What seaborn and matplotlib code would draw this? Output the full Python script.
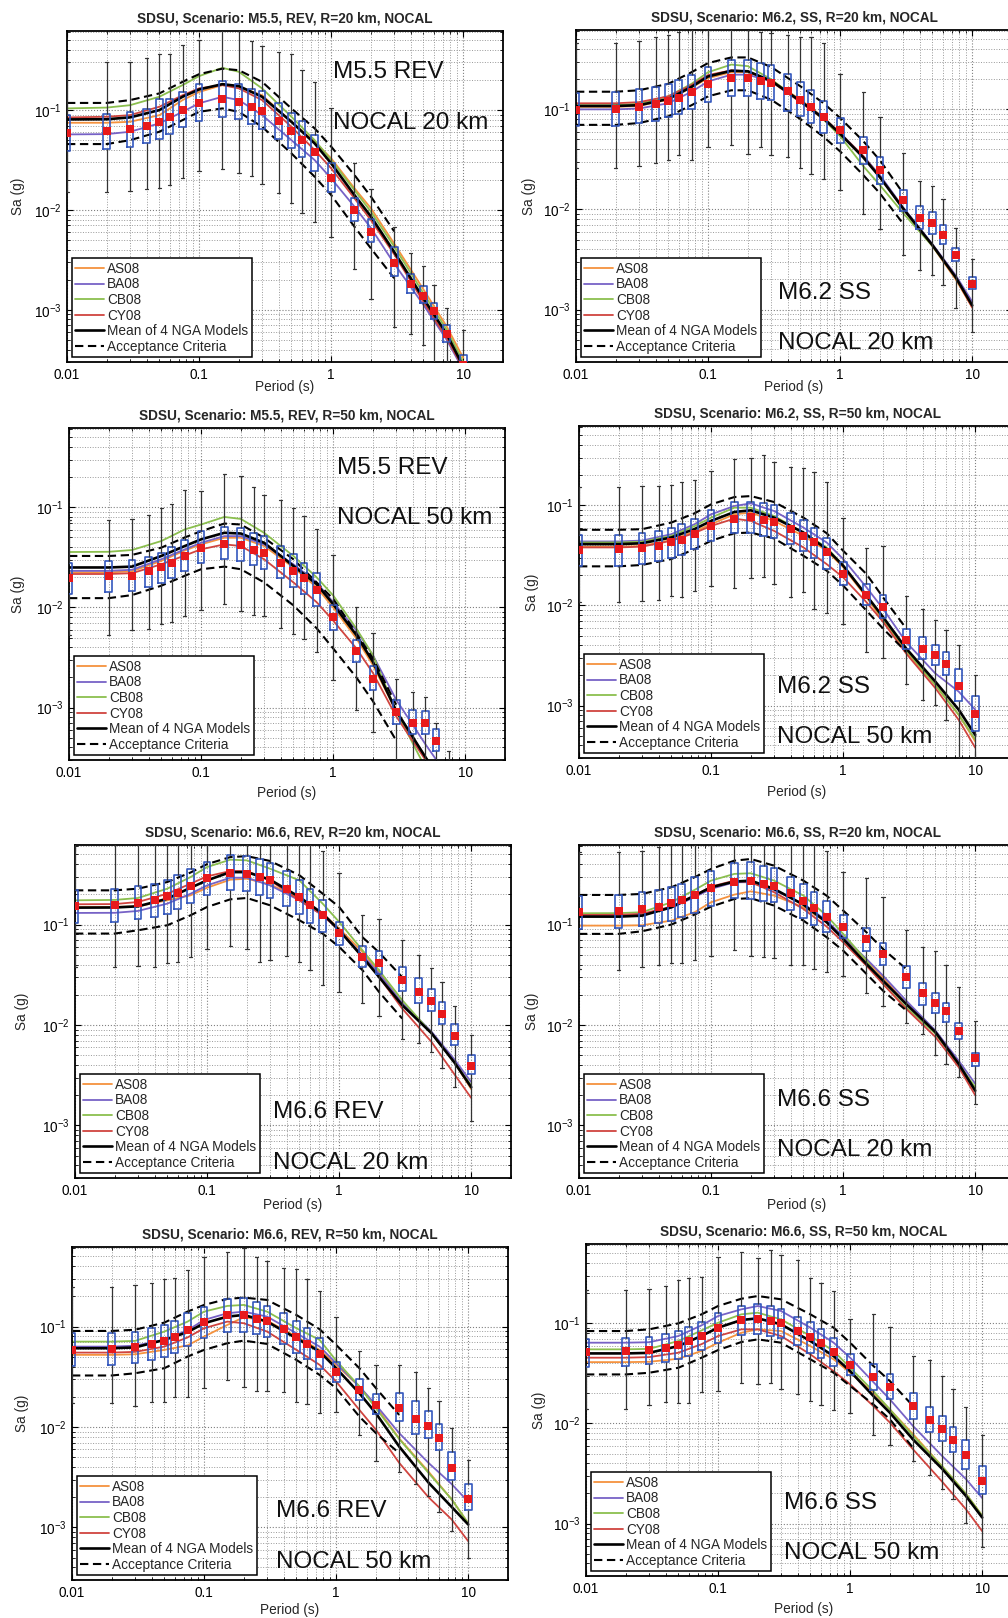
import numpy as np
import pandas as pd
import matplotlib
matplotlib.use("Agg")
import matplotlib.pyplot as plt
import seaborn as sns
from matplotlib.ticker import LogLocator, NullFormatter, FixedLocator, FixedFormatter

# ---------------- data ----------------
BT = [0.01, 0.02, 0.03, 0.04, 0.05, 0.06, 0.075, 0.1, 0.15, 0.2, 0.25, 0.3, 0.4, 0.5,
      0.6, 0.75, 1, 1.5, 2, 3, 4, 5, 6, 7.5, 10]
CT = [0.01, 0.02, 0.03, 0.05, 0.075, 0.1, 0.15, 0.2, 0.3, 0.5, 0.75, 1, 1.5, 2, 3, 5, 7.5, 10]
AT = [0.01, 0.02, 0.03, 0.05, 0.075, 0.1, 0.15, 0.2, 0.3, 0.5, 0.75, 1, 1.5, 2, 3]

# Panel 1: M5.5 REV 20 km
P1_HI = [0.30, 0.30, 0.304, 0.329, 0.369, 0.369, 0.447, 0.501, 0.8, 0.8, 0.493, 0.437, 0.383, 0.369, 0.255, 0.192, 0.105, 0.0297, 0.0161, 0.00681, 0.00369, 0.00277, 0.00178, 0.00105, 0.000621]
P1_Q3 = [0.0891, 0.0912, 0.0955, 0.103, 0.128, 0.129, 0.152, 0.182, 0.195, 0.182, 0.161, 0.155, 0.117, 0.094, 0.0782, 0.0562, 0.0293, 0.0131, 0.00807, 0.00423, 0.00229, 0.00175, 0.00118, 0.000697, 0.000355]
P1_MED = [0.0593, 0.0621, 0.0651, 0.0692, 0.0759, 0.0857, 0.1, 0.118, 0.129, 0.121, 0.108, 0.0985, 0.0782, 0.0621, 0.0501, 0.038, 0.0209, 0.01, 0.00607, 0.00297, 0.00182, 0.00139, 0.000962, 0.000571, 0.00028]
P1_Q1 = [0.0392, 0.0407, 0.043, 0.0464, 0.0513, 0.0571, 0.0671, 0.0782, 0.0851, 0.0807, 0.0724, 0.0651, 0.0509, 0.0414, 0.0336, 0.0247, 0.0151, 0.00782, 0.00475, 0.00219, 0.00149, 0.00117, 0.000806, 0.000475, 0.00024]
P1_LO = [0.015, 0.015, 0.0156, 0.0161, 0.0165, 0.0177, 0.0207, 0.0247, 0.0255, 0.0233, 0.0221, 0.0181, 0.0149, 0.0118, 0.00927, 0.00753, 0.0054, 0.00255, 0.00128, 0.00068, 0.000575, 0.00044, 0.0002, 0.0002, 0.00015]
P1_AS = [0.0747, 0.0747, 0.0764, 0.089, 0.126, 0.152, 0.178, 0.171, 0.141, 0.0764, 0.0482, 0.0329, 0.0165, 0.0104, 0.0046, 0.0016, 0.00068, 0.00033]
P1_BA = [0.0571, 0.0575, 0.0607, 0.0736, 0.0962, 0.117, 0.136, 0.126, 0.0891, 0.05, 0.0316, 0.0207, 0.0108, 0.0066, 0.0029, 0.00112, 0.0005, 0.00025]
P1_CB = [0.104, 0.106, 0.112, 0.136, 0.178, 0.219, 0.265, 0.242, 0.165, 0.0858, 0.05, 0.0316, 0.0158, 0.0096, 0.0043, 0.00146, 0.00063, 0.0003]
P1_CY = [0.0845, 0.0858, 0.0891, 0.108, 0.141, 0.165, 0.178, 0.165, 0.126, 0.0681, 0.0398, 0.0261, 0.0131, 0.0079, 0.0036, 0.0012, 0.00052, 0.00026]
P1_MEAN = [0.0807, 0.081, 0.0845, 0.1, 0.136, 0.161, 0.182, 0.174, 0.136, 0.0764, 0.0464, 0.0293, 0.0141, 0.0086, 0.0038, 0.0013, 0.00057, 0.00027]
P1_UP = [0.118, 0.118, 0.126, 0.147, 0.192, 0.229, 0.26, 0.251, 0.192, 0.104, 0.0656, 0.0431, 0.0224, 0.0136, 0.0061]
P1_DN = [0.0457, 0.0457, 0.05, 0.0607, 0.0794, 0.0962, 0.104, 0.096, 0.068, 0.0369, 0.0215, 0.0141, 0.0068, 0.00412, 0.00207]

# Panel 2: M6.2 SS 20 km
P2_HI = [0.464, 0.464, 0.482, 0.533, 0.554, 0.598, 0.8, 0.8, 0.8, 0.8, 0.598, 0.575, 0.554, 0.525, 0.525, 0.457, 0.226, 0.150, 0.0845, 0.0363, 0.0192, 0.0173, 0.0126, 0.00646, 0.00324]
P2_Q3 = [0.147, 0.150, 0.158, 0.166, 0.179, 0.196, 0.220, 0.267, 0.311, 0.311, 0.288, 0.277, 0.226, 0.188, 0.156, 0.122, 0.0813, 0.0533, 0.0331, 0.0156, 0.0108, 0.0094, 0.00703, 0.00417, 0.00212]
P2_MED = [0.0985, 0.1016, 0.1063, 0.113, 0.122, 0.131, 0.150, 0.178, 0.207, 0.207, 0.194, 0.182, 0.152, 0.124, 0.1063, 0.0845, 0.0621, 0.0392, 0.0247, 0.0124, 0.00819, 0.00736, 0.00558, 0.00349, 0.00182]
P2_Q1 = [0.0682, 0.0687, 0.0724, 0.077, 0.0832, 0.0891, 0.1, 0.1175, 0.137, 0.137, 0.128, 0.124, 0.0962, 0.0857, 0.0724, 0.0585, 0.0457, 0.0284, 0.0179, 0.00962, 0.00641, 0.00575, 0.00457, 0.00304, 0.00162]
P2_LO = [0.0257, 0.0257, 0.0273, 0.0288, 0.0311, 0.0347, 0.0311, 0.0417, 0.044, 0.0357, 0.0424, 0.0349, 0.0336, 0.0261, 0.0224, 0.02, 0.0156, 0.00912, 0.00641, 0.00355, 0.00251, 0.0022, 0.00175, 0.00105, 0.000593]
P2_AS = [0.106, 0.106, 0.108, 0.125, 0.165, 0.205, 0.235, 0.235, 0.195, 0.125, 0.083, 0.058, 0.034, 0.0215, 0.0103, 0.0043, 0.002, 0.00105]
P2_BA = [0.1, 0.1, 0.102, 0.115, 0.15, 0.19, 0.222, 0.222, 0.19, 0.122, 0.082, 0.058, 0.034, 0.022, 0.0105, 0.0045, 0.0022, 0.0012]
P2_CB = [0.11, 0.11, 0.114, 0.135, 0.18, 0.235, 0.28, 0.27, 0.2, 0.12, 0.079, 0.054, 0.027, 0.0175, 0.0092, 0.0043, 0.0021, 0.0011]
P2_CY = [0.115, 0.115, 0.118, 0.135, 0.175, 0.22, 0.245, 0.24, 0.19, 0.118, 0.08, 0.057, 0.034, 0.021, 0.0102, 0.0044, 0.0021, 0.00105]
P2_MEAN = [0.108, 0.108, 0.11, 0.127, 0.168, 0.213, 0.243, 0.24, 0.193, 0.121, 0.081, 0.057, 0.033, 0.021, 0.0102, 0.0044, 0.0021, 0.0011]
P2_UP = [0.15, 0.15, 0.155, 0.18, 0.235, 0.29, 0.33, 0.33, 0.265, 0.17, 0.115, 0.082, 0.048, 0.031, 0.0145]
P2_DN = [0.07, 0.07, 0.073, 0.085, 0.11, 0.135, 0.155, 0.155, 0.125, 0.08, 0.053, 0.038, 0.022, 0.0145, 0.0072]

# Panel 3: M5.5 REV 50 km
P3_HI = [0.0755, 0.0755, 0.0772, 0.0846, 0.0977, 0.109, 0.1496, 0.144, 0.214, 0.207, 0.159, 0.1335, 0.119, 0.0985, 0.0815, 0.0601, 0.0332, 0.01, 0.00561, 0.00194, 0.00143, 0.00127, 0.000705, 0.00037, 0.00028]
P3_Q3 = [0.0281, 0.0288, 0.0297, 0.0322, 0.0353, 0.0405, 0.0471, 0.0574, 0.0639, 0.0615, 0.0557, 0.0516, 0.0411, 0.034, 0.0281, 0.0219, 0.0107, 0.00471, 0.00262, 0.0012, 0.000955, 0.000933, 0.000615, 0.000253, 0.0002]
P3_MED = [0.0195, 0.0204, 0.0207, 0.0229, 0.0251, 0.0281, 0.0327, 0.0396, 0.0434, 0.042, 0.0375, 0.0353, 0.0281, 0.0234, 0.0195, 0.0149, 0.00802, 0.00367, 0.00194, 0.0009, 0.000705, 0.000705, 0.000464, 0.0002, 0.00017]
P3_Q1 = [0.0137, 0.0142, 0.0147, 0.0159, 0.0175, 0.0195, 0.0229, 0.0275, 0.0303, 0.0292, 0.0264, 0.0245, 0.0195, 0.0161, 0.0135, 0.0103, 0.00601, 0.00288, 0.00151, 0.00069, 0.00054, 0.000548, 0.00037, 0.00016, 0.00014]
P3_LO = [0.00536, 0.00536, 0.00592, 0.00615, 0.00689, 0.00716, 0.0082, 0.00934, 0.0109, 0.00913, 0.00846, 0.0082, 0.00624, 0.0054, 0.00482, 0.00356, 0.00187, 0.000955, 0.000574, 0.0002, 0.0002, 0.0002, 0.00015, 0.0001, 0.0001]
P3_AS = [0.0224, 0.0224, 0.023, 0.0292, 0.037, 0.0427, 0.0497, 0.0497, 0.0411, 0.0251, 0.0159, 0.01, 0.0049, 0.00266, 0.00092, 0.00032, 0.00014, 0.00008]
P3_BA = [0.0232, 0.0232, 0.0238, 0.0303, 0.038, 0.0443, 0.0516, 0.0516, 0.0427, 0.027, 0.0178, 0.0113, 0.0059, 0.00334, 0.0012, 0.00043, 0.0002, 0.0001]
P3_CB = [0.0358, 0.036, 0.0375, 0.0461, 0.0601, 0.0674, 0.0802, 0.0766, 0.0557, 0.0327, 0.02, 0.0132, 0.00615, 0.00334, 0.00092, 0.00025, 0.00012, 0.00007]
P3_CY = [0.0216, 0.0216, 0.022, 0.027, 0.033, 0.0381, 0.0427, 0.0411, 0.0303, 0.0178, 0.0113, 0.0074, 0.0039, 0.00222, 0.00082, 0.0003, 0.00013, 0.00007]
P3_MEAN = [0.0251, 0.0251, 0.0256, 0.0327, 0.041, 0.0479, 0.0557, 0.0548, 0.0443, 0.026, 0.0171, 0.0108, 0.00529, 0.00287, 0.00093, 0.00032, 0.00014, 0.00008]
P3_UP = [0.0327, 0.0327, 0.0335, 0.0396, 0.05, 0.0578, 0.0689, 0.0674, 0.0497, 0.0303, 0.0178, 0.0122, 0.0055, 0.0031, 0.00107]
P3_DN = [0.0124, 0.0124, 0.0133, 0.0165, 0.0207, 0.0241, 0.0256, 0.0241, 0.0178, 0.0105, 0.0062, 0.0039, 0.002, 0.00116, 0.00047]

# Panel 4: M6.2 SS 50 km
P4_HI = [0.1532, 0.1532, 0.1556, 0.1556, 0.158, 0.173, 0.1785, 0.2227, 0.2931, 0.2953, 0.3211, 0.2695, 0.2403, 0.2367, 0.2143, 0.1706, 0.0754, 0.0374, 0.0394, 0.01257, 0.00927, 0.00721, 0.00573, 0.00401, 0.00202]
P4_Q3 = [0.0504, 0.0511, 0.0535, 0.0556, 0.0595, 0.0648, 0.0737, 0.0899, 0.1079, 0.1079, 0.1063, 0.1015, 0.0833, 0.0715, 0.06, 0.0477, 0.0269, 0.0163, 0.0126, 0.00586, 0.00481, 0.00407, 0.00344, 0.00231, 0.00126]
P4_MED = [0.0357, 0.0366, 0.0371, 0.0394, 0.0426, 0.0452, 0.0523, 0.0623, 0.0737, 0.0772, 0.0715, 0.0683, 0.0578, 0.0496, 0.0426, 0.0339, 0.0206, 0.01286, 0.00977, 0.00456, 0.00366, 0.00319, 0.00261, 0.00157, 0.000826]
P4_Q1 = [0.0246, 0.025, 0.0259, 0.028, 0.0297, 0.0319, 0.0366, 0.0439, 0.0535, 0.0535, 0.0496, 0.0477, 0.041, 0.0352, 0.0295, 0.0231, 0.016, 0.01015, 0.00754, 0.00366, 0.00291, 0.00254, 0.00202, 0.00111, 0.00056]
P4_LO = [0.0108, 0.0108, 0.011, 0.0114, 0.0123, 0.0121, 0.0141, 0.0156, 0.0149, 0.019, 0.0193, 0.0164, 0.0122, 0.0136, 0.00927, 0.00846, 0.00657, 0.00344, 0.00301, 0.00163, 0.00114, 0.00101, 0.00072, 0.0002, 0.0002]
P4_AS = [0.0386, 0.0386, 0.0393, 0.045, 0.055, 0.0648, 0.0814, 0.0846, 0.0699, 0.0496, 0.0352, 0.0241, 0.0121, 0.0071, 0.00343, 0.0016, 0.00081, 0.00044]
P4_BA = [0.0436, 0.0436, 0.0445, 0.0515, 0.0648, 0.0814, 0.0985, 0.1047, 0.0878, 0.06, 0.0426, 0.0291, 0.0152, 0.0093, 0.00431, 0.00209, 0.00138, 0.00091]
P4_CB = [0.0426, 0.0426, 0.0433, 0.0496, 0.062, 0.0754, 0.0948, 0.0948, 0.0783, 0.0535, 0.038, 0.025, 0.0126, 0.0074, 0.00358, 0.0016, 0.00081, 0.00046]
P4_CY = [0.038, 0.038, 0.0387, 0.0443, 0.053, 0.0623, 0.0737, 0.0699, 0.0556, 0.038, 0.0259, 0.0191, 0.0108, 0.0069, 0.00331, 0.00149, 0.00072, 0.00038]
P4_MEAN = [0.041, 0.041, 0.0418, 0.0478, 0.058, 0.0699, 0.0859, 0.0892, 0.0754, 0.0535, 0.0366, 0.025, 0.0126, 0.0077, 0.00372, 0.00173, 0.00091, 0.00051]
P4_UP = [0.057, 0.057, 0.0578, 0.0673, 0.0833, 0.1023, 0.121, 0.1238, 0.108, 0.0754, 0.0527, 0.0352, 0.0206, 0.0121, 0.0059]
P4_DN = [0.0246, 0.0246, 0.0254, 0.0291, 0.0366, 0.0443, 0.0527, 0.0535, 0.0467, 0.0314, 0.0223, 0.0158, 0.0089, 0.0059, 0.00344]

# Panel 5: M6.6 REV 20 km
P5_HI = [0.8, 0.8, 0.8, 0.8, 0.8, 0.8, 0.8, 0.8, 0.8, 0.8, 0.8, 0.8, 0.8, 0.8, 0.8, 0.539, 0.326, 0.1257, 0.1147, 0.0699, 0.0496, 0.0366, 0.0269, 0.01556, 0.00796]
P5_Q3 = [0.2227, 0.2278, 0.2403, 0.2555, 0.2799, 0.309, 0.3546, 0.4194, 0.4884, 0.4809, 0.4525, 0.413, 0.3413, 0.2756, 0.2278, 0.1771, 0.1063, 0.0609, 0.0547, 0.0374, 0.0291, 0.0231, 0.01705, 0.01015, 0.00504]
P5_MED = [0.1521, 0.1556, 0.1641, 0.1771, 0.1927, 0.2079, 0.2421, 0.2908, 0.326, 0.3211, 0.2975, 0.2756, 0.2278, 0.1883, 0.1556, 0.1238, 0.0827, 0.0477, 0.041, 0.028, 0.02127, 0.01732, 0.01296, 0.00783, 0.00394]
P5_Q1 = [0.1039, 0.1063, 0.113, 0.1192, 0.1286, 0.142, 0.1654, 0.1956, 0.2193, 0.2143, 0.1956, 0.1854, 0.1521, 0.1266, 0.1047, 0.0846, 0.0633, 0.038, 0.0321, 0.02176, 0.01667, 0.01377, 0.01023, 0.00633, 0.00324]
P5_LO = [0.038, 0.0374, 0.0391, 0.038, 0.041, 0.0426, 0.0477, 0.0569, 0.0614, 0.0578, 0.0426, 0.0442, 0.0485, 0.0426, 0.0352, 0.025, 0.02143, 0.0164, 0.01238, 0.00726, 0.00657, 0.00543, 0.00371, 0.00244, 0.00111]
P5_AS = [0.1498, 0.15, 0.152, 0.1745, 0.1956, 0.2329, 0.28, 0.286, 0.2515, 0.181, 0.1286, 0.0913, 0.0535, 0.0338, 0.0162, 0.0083, 0.0042, 0.0023]
P5_BA = [0.1306, 0.131, 0.1367, 0.1617, 0.2029, 0.2456, 0.2929, 0.2929, 0.2456, 0.1745, 0.1238, 0.0878, 0.0496, 0.0326, 0.0166, 0.0086, 0.0045, 0.0027]
P5_CB = [0.1745, 0.176, 0.184, 0.228, 0.2975, 0.374, 0.443, 0.436, 0.36, 0.2756, 0.1617, 0.1063, 0.0556, 0.0352, 0.0177, 0.0083, 0.0042, 0.0025]
P5_CY = [0.1593, 0.16, 0.168, 0.2029, 0.2555, 0.3022, 0.3413, 0.3413, 0.2756, 0.1745, 0.1238, 0.0878, 0.0477, 0.0302, 0.0146, 0.0068, 0.0032, 0.00188]
P5_MEAN = [0.1475, 0.148, 0.152, 0.181, 0.2329, 0.2756, 0.333, 0.333, 0.28, 0.1883, 0.1286, 0.0878, 0.0477, 0.0302, 0.0158, 0.0083, 0.0042, 0.0024]
P5_UP = [0.2193, 0.2193, 0.2278, 0.2654, 0.33, 0.40, 0.47, 0.48, 0.43, 0.31, 0.2033, 0.1498, 0.075, 0.053, 0.030]
P5_DN = [0.0814, 0.0814, 0.0878, 0.0985, 0.1238, 0.1498, 0.1785, 0.184, 0.1556, 0.1104, 0.0814, 0.06, 0.0352, 0.0214, 0.0116]

# Panel 6: M6.6 SS 20 km
P6_HI = [0.5245, 0.5245, 0.545, 0.5884, 0.8, 0.8, 0.8, 0.8, 0.8, 0.8, 0.8, 0.8, 0.8, 0.8, 0.8, 0.545, 0.3369, 0.2913, 0.1871, 0.0885, 0.0604, 0.0551, 0.04, 0.02415, 0.01109]
P6_Q3 = [0.1944, 0.1988, 0.2098, 0.223, 0.2389, 0.2539, 0.2958, 0.3446, 0.4077, 0.4171, 0.3864, 0.3636, 0.3004, 0.2539, 0.2098, 0.1707, 0.1248, 0.0919, 0.0657, 0.0391, 0.02608, 0.02074, 0.01662, 0.01051, 0.00528]
P6_MED = [0.1327, 0.1358, 0.1421, 0.1511, 0.1631, 0.176, 0.1974, 0.2299, 0.2679, 0.2741, 0.2559, 0.2444, 0.205, 0.1707, 0.1454, 0.1201, 0.0955, 0.0715, 0.051, 0.0304, 0.02074, 0.01675, 0.01373, 0.00882, 0.00468]
P6_Q1 = [0.0906, 0.0919, 0.0963, 0.1031, 0.1096, 0.1183, 0.1306, 0.1546, 0.1828, 0.18, 0.1707, 0.1668, 0.141, 0.1165, 0.1, 0.0852, 0.0737, 0.0543, 0.04, 0.02325, 0.016, 0.01331, 0.01083, 0.00729, 0.00395]
P6_LO = [0.0362, 0.0354, 0.0376, 0.04, 0.0419, 0.0416, 0.0445, 0.0491, 0.056, 0.0491, 0.0473, 0.0466, 0.0397, 0.0397, 0.0362, 0.0336, 0.0306, 0.0207, 0.0154, 0.01051, 0.00817, 0.00505, 0.00411, 0.00303, 0.00162]
P6_AS = [0.0977, 0.0977, 0.0985, 0.1096, 0.1327, 0.1668, 0.1988, 0.2145, 0.1944, 0.1487, 0.1055, 0.0748, 0.0439, 0.0299, 0.0162, 0.0082, 0.004, 0.0022]
P6_BA = [0.1229, 0.123, 0.1255, 0.1465, 0.188, 0.2264, 0.264, 0.264, 0.2215, 0.1606, 0.1096, 0.076, 0.0455, 0.0311, 0.0175, 0.0088, 0.0044, 0.0026]
P6_CB = [0.1297, 0.13, 0.1327, 0.1668, 0.2215, 0.2741, 0.3196, 0.3245, 0.2741, 0.1944, 0.1229, 0.0808, 0.0439, 0.0257, 0.015, 0.0082, 0.0041, 0.0024]
P6_CY = [0.1248, 0.125, 0.128, 0.151, 0.195, 0.2389, 0.274, 0.264, 0.21, 0.1432, 0.0955, 0.0667, 0.039, 0.0257, 0.0145, 0.0076, 0.0038, 0.002]
P6_MEAN = [0.1201, 0.12, 0.1227, 0.1487, 0.1944, 0.2353, 0.268, 0.274, 0.2264, 0.1581, 0.1055, 0.072, 0.0406, 0.0277, 0.0162, 0.0085, 0.0041, 0.00222]
P6_UP = [0.1973, 0.1973, 0.202, 0.235, 0.296, 0.358, 0.433, 0.45, 0.386, 0.274, 0.194, 0.138, 0.0839, 0.0573, 0.0362]
P6_DN = [0.0808, 0.0808, 0.0858, 0.1, 0.1258, 0.151, 0.18, 0.183, 0.1546, 0.1096, 0.0748, 0.0551, 0.0323, 0.022, 0.014]

# Panel 7: M6.6 REV 50 km
P7_HI = [0.2462, 0.2462, 0.2578, 0.2741, 0.2981, 0.3027, 0.3663, 0.4971, 0.5576, 0.6018, 0.4896, 0.4502, 0.3805, 0.372, 0.2958, 0.2281, 0.1257, 0.0577, 0.0415, 0.0415, 0.0357, 0.02434, 0.01821, 0.00974, 0.00471]
P7_Q3 = [0.0858, 0.0872, 0.0892, 0.0963, 0.1031, 0.1147, 0.1358, 0.1581, 0.1885, 0.1944, 0.1746, 0.1606, 0.1378, 0.1147, 0.0977, 0.0765, 0.0448, 0.0302, 0.0214, 0.0217, 0.01821, 0.01448, 0.01075, 0.0057, 0.00272]
P7_MED = [0.0586, 0.0599, 0.0632, 0.0672, 0.072, 0.0795, 0.0927, 0.1113, 0.1306, 0.1306, 0.1201, 0.1147, 0.0955, 0.0795, 0.0672, 0.0539, 0.0357, 0.02343, 0.01675, 0.01551, 0.01206, 0.01027, 0.00786, 0.00395, 0.00194]
P7_Q1 = [0.0409, 0.0419, 0.0435, 0.0466, 0.0503, 0.0551, 0.0642, 0.0765, 0.0892, 0.0892, 0.0839, 0.0783, 0.0672, 0.0551, 0.0473, 0.0379, 0.0279, 0.01863, 0.01352, 0.01151, 0.00849, 0.00774, 0.00593, 0.00294, 0.00148]
P7_LO = [0.01726, 0.01726, 0.01624, 0.01793, 0.01766, 0.0201, 0.0198, 0.02434, 0.02947, 0.0253, 0.02273, 0.02308, 0.02239, 0.0178, 0.017, 0.01373, 0.01416, 0.0083, 0.00461, 0.00353, 0.0027, 0.00207, 0.00142, 0.000912, 0.000495]
P7_AS = [0.0523, 0.0523, 0.053, 0.0586, 0.065, 0.0795, 0.1039, 0.1238, 0.1147, 0.0795, 0.0586, 0.0416, 0.0253, 0.016, 0.0077, 0.0036, 0.0019, 0.0011]
P7_BA = [0.0632, 0.0632, 0.0645, 0.0737, 0.092, 0.1165, 0.1358, 0.141, 0.1257, 0.0858, 0.0632, 0.0432, 0.0253, 0.0166, 0.0087, 0.0044, 0.0027, 0.0018]
P7_CB = [0.0709, 0.0709, 0.072, 0.0892, 0.1121, 0.141, 0.1606, 0.1643, 0.141, 0.0963, 0.0737, 0.0459, 0.0253, 0.0154, 0.0076, 0.0035, 0.0019, 0.0011]
P7_CY = [0.0551, 0.0551, 0.056, 0.0632, 0.078, 0.0963, 0.1121, 0.108, 0.0892, 0.0586, 0.0416, 0.0284, 0.0148, 0.0094, 0.0044, 0.002, 0.0012, 0.00073]
P7_MEAN = [0.0609, 0.0609, 0.062, 0.0737, 0.088, 0.108, 0.1257, 0.1306, 0.1121, 0.0765, 0.0564, 0.0385, 0.0217, 0.0137, 0.0064, 0.0028, 0.0016, 0.00107]
P7_UP = [0.0905, 0.0905, 0.093, 0.1096, 0.141, 0.1643, 0.1885, 0.1944, 0.1842, 0.1306, 0.0941, 0.0657, 0.0385, 0.0244, 0.0132]
P7_DN = [0.0326, 0.0326, 0.0343, 0.0385, 0.0503, 0.0586, 0.0683, 0.0725, 0.0672, 0.0466, 0.033, 0.0243, 0.0127, 0.0087, 0.0055]

# Panel 8: M6.6 SS 50 km
P8_HI = [0.2138, 0.2138, 0.2188, 0.2362, 0.2692, 0.2818, 0.2929, 0.4606, 0.5168, 0.4536, 0.5412, 0.4786, 0.4266, 0.2862, 0.2551, 0.2105, 0.1096, 0.123, 0.0926, 0.0471, 0.0427, 0.0297, 0.0222, 0.01457, 0.00776]
P8_Q3 = [0.0703, 0.0719, 0.0736, 0.0776, 0.0838, 0.0919, 0.1039, 0.1259, 0.149, 0.1549, 0.149, 0.1402, 0.1166, 0.1039, 0.0871, 0.0719, 0.049, 0.0389, 0.0309, 0.02, 0.01457, 0.01184, 0.00919, 0.00681, 0.00374]
P8_MED = [0.0517, 0.0525, 0.0541, 0.0567, 0.0603, 0.0661, 0.0747, 0.0905, 0.108, 0.1113, 0.1055, 0.1008, 0.0832, 0.073, 0.0631, 0.0517, 0.0383, 0.0291, 0.0231, 0.0149, 0.01096, 0.00891, 0.00692, 0.00482, 0.00269]
P8_Q1 = [0.0366, 0.0375, 0.0389, 0.0414, 0.0437, 0.0471, 0.0541, 0.0631, 0.0759, 0.0788, 0.0747, 0.0708, 0.0603, 0.0509, 0.0454, 0.0375, 0.0304, 0.0215, 0.01738, 0.01114, 0.00819, 0.00666, 0.00521, 0.00352, 0.00198]
P8_LO = [0.0138, 0.0138, 0.01514, 0.01647, 0.01585, 0.0161, 0.0206, 0.021, 0.0255, 0.0249, 0.0255, 0.0222, 0.01965, 0.01673, 0.01514, 0.0136, 0.01279, 0.00776, 0.00607, 0.0042, 0.00309, 0.00222, 0.00176, 0.00102, 0.000584]
P8_AS = [0.041, 0.041, 0.0413, 0.0443, 0.053, 0.0641, 0.0806, 0.0871, 0.0838, 0.0593, 0.0437, 0.0321, 0.0203, 0.0138, 0.0078, 0.0037, 0.002, 0.0012]
P8_BA = [0.0641, 0.0641, 0.0648, 0.0747, 0.0955, 0.1184, 0.138, 0.149, 0.1328, 0.0905, 0.0641, 0.0454, 0.0259, 0.0174, 0.0094, 0.0047, 0.0028, 0.0018]
P8_CB = [0.055, 0.055, 0.0556, 0.0666, 0.085, 0.1015, 0.123, 0.1278, 0.1096, 0.0747, 0.0529, 0.036, 0.021, 0.0138, 0.0075, 0.0037, 0.002, 0.0012]
P8_CY = [0.0454, 0.0454, 0.046, 0.0509, 0.062, 0.0747, 0.0871, 0.0871, 0.0747, 0.049, 0.0333, 0.0246, 0.0149, 0.0102, 0.0055, 0.0026, 0.0014, 0.00084]
P8_MEAN = [0.0501, 0.0501, 0.0507, 0.0593, 0.075, 0.0905, 0.108, 0.1122, 0.0977, 0.0666, 0.0471, 0.0333, 0.0188, 0.0128, 0.0069, 0.0035, 0.0019, 0.00115]
P8_UP = [0.0838, 0.0838, 0.0871, 0.1, 0.123, 0.149, 0.1762, 0.1875, 0.1738, 0.123, 0.0905, 0.0641, 0.0375, 0.0265, 0.0149]
P8_DN = [0.0309, 0.0309, 0.0321, 0.036, 0.0454, 0.0541, 0.0651, 0.0692, 0.0641, 0.0437, 0.0321, 0.0237, 0.0155, 0.011, 0.0057]

TITLES = ["SDSU, Scenario: M5.5, REV, R=20 km, NOCAL", "SDSU, Scenario: M6.2, SS, R=20 km, NOCAL",
          "SDSU, Scenario: M5.5, REV, R=50 km, NOCAL", "SDSU, Scenario: M6.2, SS, R=50 km, NOCAL",
          "SDSU, Scenario: M6.6, REV, R=20 km, NOCAL", "SDSU, Scenario: M6.6, SS, R=20 km, NOCAL",
          "SDSU, Scenario: M6.6, REV, R=50 km, NOCAL", "SDSU, Scenario: M6.6, SS, R=50 km, NOCAL"]
LABEL1 = ["M5.5 REV", "M6.2 SS", "M5.5 REV", "M6.2 SS", "M6.6 REV", "M6.6 SS", "M6.6 REV", "M6.6 SS"]
LABEL2 = ["NOCAL 20 km", "NOCAL 20 km", "NOCAL 50 km", "NOCAL 50 km",
          "NOCAL 20 km", "NOCAL 20 km", "NOCAL 50 km", "NOCAL 50 km"]
MODEL_NAMES = ["AS08", "BA08", "CB08", "CY08", "Mean of 4 NGA Models", "Acceptance Criteria"]

# ---------------- style / layout ----------------
sns.set_style("ticks")
plt.rcParams["font.family"] = ["Liberation Sans", "DejaVu Sans"]
plt.rcParams["mathtext.fontset"] = "custom"
plt.rcParams["mathtext.rm"] = "Liberation Sans"
plt.rcParams["mathtext.it"] = "Liberation Sans:italic"
plt.rcParams["mathtext.bf"] = "Liberation Sans:bold"

W, H = 1008, 1618
FS = 9.8
BLUE = "#3457bd"
RED = "#e8191c"
C_AS = "#f5923e"
C_BA = "#7762c6"
C_CB = "#8bbf4e"
C_CY = "#d0443f"

# axes pixel boxes (left, top, right, bottom), xlabel centre y, ylabel centre x
BOXES = [(67, 31, 503, 362), (576, 30, 1012, 362),
         (69, 428, 505, 760), (579, 426, 1015, 758),
         (75, 845, 511, 1178), (579, 845, 1015, 1178),
         (72, 1247, 508, 1580), (586, 1244, 1022, 1576)]
XLAB_Y = [387, 387, 793, 792, 1205, 1205, 1610, 1609]
YLAB_X = [18, 529, 18, 532, 22, 532, 22, 539]
T1POS = [(0.61, 0.876), (0.464, 0.208), (0.614, 0.88), (0.453, 0.214),
         (0.455, 0.198), (0.453, 0.234), (0.467, 0.207), (0.453, 0.22)]
T2POS = [(0.61, 0.723), (0.464, 0.057), (0.614, 0.729), (0.453, 0.063),
         (0.455, 0.045), (0.453, 0.084), (0.467, 0.054), (0.453, 0.069)]

PANEL_DATA = []
for k in range(1, 9):
    g = globals()
    PANEL_DATA.append({key: g[f"P{k}_{key}"] for key in
                       ["HI", "Q3", "MED", "Q1", "LO", "AS", "BA", "CB", "CY", "MEAN", "UP", "DN"]})

fig = plt.figure(figsize=(W / 100, H / 100), dpi=100)

for i, d in enumerate(PANEL_DATA):
    for key in ["HI", "Q3", "MED", "Q1", "LO"]:
        assert len(d[key]) == len(BT), (i, key)
    for key in ["AS", "BA", "CB", "CY", "MEAN"]:
        assert len(d[key]) == len(CT), (i, key)
    for key in ["UP", "DN"]:
        assert len(d[key]) == len(AT), (i, key)

    l, t, r, b = BOXES[i]
    ax = fig.add_axes([l / W, 1 - b / H, (r - l) / W, (b - t) / H])

    rows = []
    for T, lo, q1, md, q3, hi in zip(BT, d["LO"], d["Q1"], d["MED"], d["Q3"], d["HI"]):
        for v in (lo, q1, md, q3, hi):
            rows.append((T, v))
    df = pd.DataFrame(rows, columns=["T", "Sa"])

    # model curves
    handles = []
    for key, col, lw in [("AS", C_AS, 1.3), ("BA", C_BA, 1.3), ("CB", C_CB, 1.3), ("CY", C_CY, 1.3),
                         ("MEAN", "black", 1.9)]:
        sns.lineplot(x=CT, y=d[key], color=col, linewidth=lw, ax=ax, legend=False,
                     estimator=None, sort=False, zorder=2)
        handles.append(ax.lines[-1])
    for key in ["UP", "DN"]:
        sns.lineplot(x=AT, y=d[key], color="black", linewidth=1.5, linestyle=(0, (4, 2.2)),
                     ax=ax, legend=False, estimator=None, sort=False, zorder=2)
    handles.append(ax.lines[-1])

    sns.boxplot(data=df, x="T", y="Sa", native_scale=True, log_scale=(True, True),
                width=0.64, whis=(0, 100), fill=False, color=BLUE, linewidth=1.2,
                whiskerprops=dict(color="0.2", linewidth=0.9),
                capprops=dict(color="0.2", linewidth=0.9),
                medianprops=dict(visible=False), showfliers=False, ax=ax, zorder=3)

    sns.scatterplot(x=BT, y=d["MED"], marker="s", color=RED, s=26, linewidth=0,
                    ax=ax, legend=False, zorder=5)

    ax.set_xscale("log")
    ax.set_yscale("log")
    ax.set_xlim(0.01, 20)
    ax.set_ylim(3e-4, 0.62)

    ax.xaxis.set_major_locator(FixedLocator([0.01, 0.1, 1, 10]))
    ax.xaxis.set_major_formatter(FixedFormatter(["0.01", "0.1", "1", "10"]))
    ax.xaxis.set_minor_locator(LogLocator(base=10, subs=np.arange(2, 10) * 1.0, numticks=100))
    ax.xaxis.set_minor_formatter(NullFormatter())
    ax.yaxis.set_major_locator(FixedLocator([1e-3, 1e-2, 1e-1]))
    ax.yaxis.set_major_formatter(FixedFormatter([r"$10^{-3}$", r"$10^{-2}$", r"$10^{-1}$"]))
    ax.yaxis.set_minor_locator(LogLocator(base=10, subs=np.arange(2, 10) * 1.0, numticks=100))
    ax.yaxis.set_minor_formatter(NullFormatter())

    ax.tick_params(which="both", direction="in", top=True, right=True, colors="black",
                   labelsize=FS)
    ax.tick_params(which="major", length=4.5, width=0.8, pad=4)
    ax.tick_params(which="minor", length=2.5, width=0.6)
    ax.grid(True, which="major", linestyle=":", color="0.5", linewidth=0.8)
    ax.grid(True, which="minor", linestyle=":", color="0.6", linewidth=0.7)
    ax.set_axisbelow(True)
    for sp in ax.spines.values():
        sp.set_linewidth(1.3)
        sp.set_color("black")

    ax.set_title(TITLES[i], fontsize=FS, fontweight="bold", pad=6)
    ax.set_xlabel("Period (s)", fontsize=FS, va="center")
    ax.set_ylabel("Sa (g)", fontsize=FS, va="center")
    ax.xaxis.set_label_coords(0.5, -(XLAB_Y[i] - b) / (b - t))
    ax.yaxis.set_label_coords(-(l - YLAB_X[i]) / (r - l), 0.5)

    ax.text(T1POS[i][0], T1POS[i][1], LABEL1[i], transform=ax.transAxes,
            fontsize=17.5, ha="left", va="center", color="#111111", zorder=8)
    ax.text(T2POS[i][0], T2POS[i][1], LABEL2[i], transform=ax.transAxes,
            fontsize=17.5, ha="left", va="center", color="#111111", zorder=8)

    leg = ax.legend(handles, MODEL_NAMES, loc="lower left", fontsize=FS, frameon=True,
                    fancybox=False, edgecolor="black", framealpha=1, borderaxespad=0.35,
                    handlelength=2.1, handletextpad=0.25, labelspacing=0.12, borderpad=0.25)
    leg.get_frame().set_linewidth(1.1)
    leg.set_zorder(10)

fig.savefig("out.png", dpi=100)
